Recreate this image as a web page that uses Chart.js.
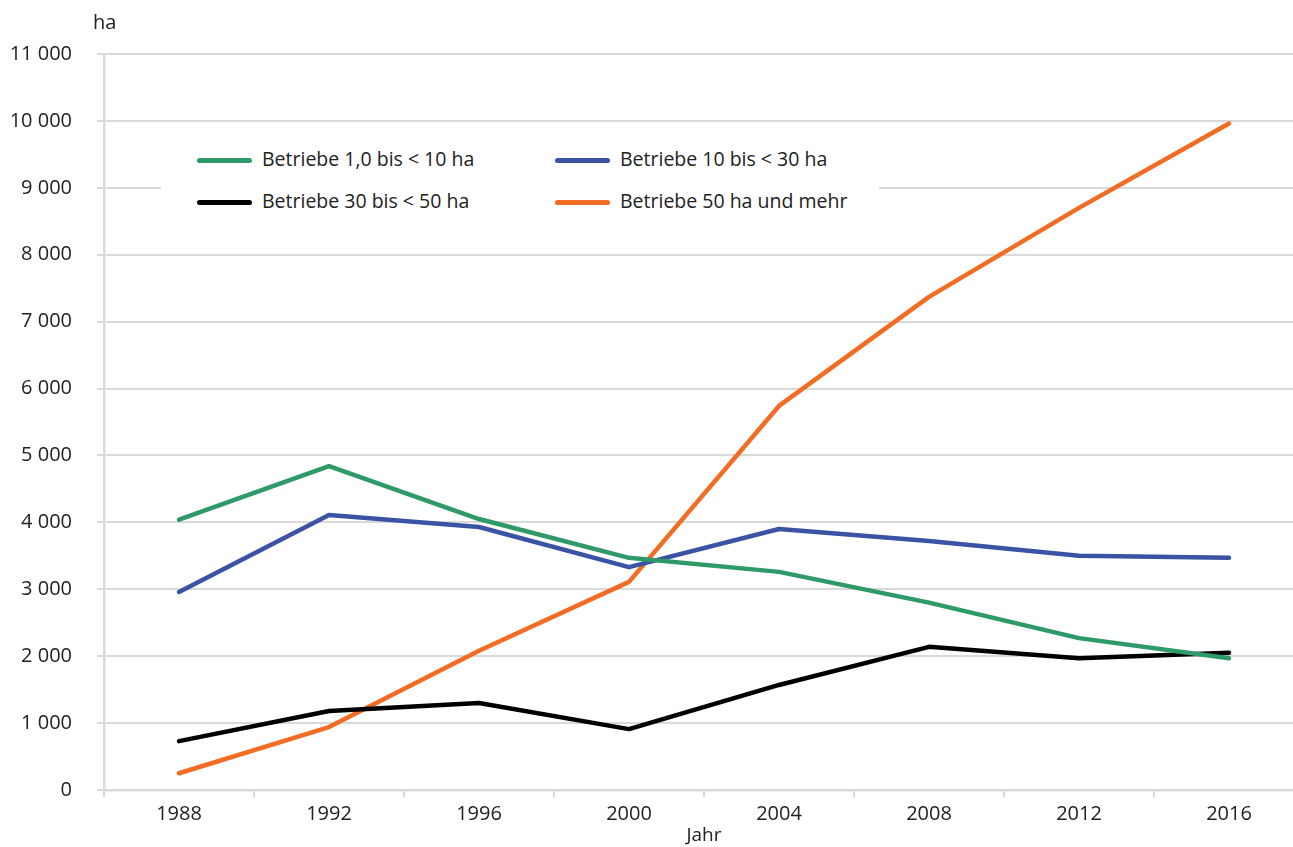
<!DOCTYPE html>
<html>
<head>
<meta charset="utf-8">
<script src="https://cdn.jsdelivr.net/npm/chart.js@4/dist/chart.umd.min.js"></script>
<style>
    body { margin: 0; background: #fff; overflow: hidden; font-family: "Open Sans", sans-serif; color: #222; }
    #wrap { position: relative; width: 1304px; height: 847px; }
    #unit { position: absolute; left: 93px; top: 8px; font-size: 20px; }
    #legend { position: absolute; left: 161px; top: 132px; width: 718px; height: 94px; background: #fff; }
    .item { position: absolute; font-size: 19.5px; line-height: 24px; white-space: nowrap; }
    .swatch { position: absolute; top: 10px; width: 55px; height: 5px; border-radius: 3px; }
    .item span.txt { position: absolute; left: 65px; top: -1px; }
</style>
</head>
<body>
<div id="wrap">
    <canvas id="chart"></canvas>
    <div id="unit">ha</div>
    <div id="legend"></div>
</div>
<script>
var years = ['1988', '1992', '1996', '2000', '2004', '2008', '2012', '2016'];
var klein = [4040, 4840, 4050, 3470, 3260, 2800, 2270, 1970];
var mittel = [2960, 4110, 3930, 3330, 3900, 3720, 3500, 3470];
var gross = [730, 1180, 1300, 910, 1570, 2140, 1970, 2050];
var sehrGross = [250, 940, 2080, 3110, 5740, 7370, 8700, 9960];
var labels = ['Betriebe 1,0 bis < 10 ha', 'Betriebe 10 bis < 30 ha', 'Betriebe 30 bis < 50 ha', 'Betriebe 50 ha und mehr'];
var colors = ['#2e9a67', '#3a53a4', '#000000', '#f26c23'];

var grid = '#d9d9d9';
var textCol = '#222';

function line(label, data, color) {
    return {
        label: label,
        data: data,
        borderColor: color,
        backgroundColor: color,
        borderWidth: 4.5,
        pointRadius: 0,
        tension: 0,
        borderCapStyle: 'round',
        borderJoinStyle: 'round'
    };
}

var ctx = document.getElementById('chart').getContext('2d');
var myChart = new Chart(ctx, {
    type: 'line',
    data: {
        labels: years,
        datasets: [
            line(labels[0], klein, colors[0]),
            line(labels[1], mittel, colors[1]),
            line(labels[2], gross, colors[2]),
            line(labels[3], sehrGross, colors[3])
        ]
    },
    options: {
        responsive: true,
        maintainAspectRatio: false,
        animation: false,
        layout: { padding: { top: 54, left: 0, right: 0, bottom: 0 } },
        plugins: {
            legend: { display: false },
            tooltip: { enabled: false }
        },
        scales: {
            x: {
                offset: true,
                grid: { offset: true, drawOnChartArea: false, color: grid, lineWidth: 2, tickLength: 7 },
                border: { color: grid, width: 2.5 },
                ticks: { color: textCol, font: { family: 'Open Sans', size: 20 }, padding: 5, maxRotation: 0 },
                title: { display: true, text: 'Jahr', color: textCol, font: { family: 'Open Sans', size: 19 }, padding: 0 },
                afterFit: function (s) { s.height = 57; }
            },
            y: {
                min: 0,
                max: 11000,
                grid: { color: grid, lineWidth: 2, tickLength: 7 },
                border: { color: grid, width: 2.5 },
                ticks: {
                    stepSize: 1000,
                    color: textCol,
                    padding: 25,
                    font: { family: 'Open Sans', size: 20 },
                    callback: function (v) {
                        return String(v).replace(/\B(?=(\d{3})+(?!\d))/g, ' ');
                    }
                },
                afterFit: function (s) { s.width = 104; }
            }
        }
    }
});

// legend as html, two columns
var lg = document.getElementById('legend');
var pos = [[36, 16], [394, 16], [36, 58], [394, 58]];
myChart.data.datasets.forEach(function (ds, i) {
    var d = document.createElement('div');
    d.className = 'item';
    d.style.left = pos[i][0] + 'px';
    d.style.top = pos[i][1] + 'px';
    d.innerHTML = '<div class="swatch" style="background:' + ds.borderColor + '"></div><span class="txt"></span>';
    d.querySelector('.txt').textContent = ds.label;
    lg.appendChild(d);
});
</script>
</body>
</html>
